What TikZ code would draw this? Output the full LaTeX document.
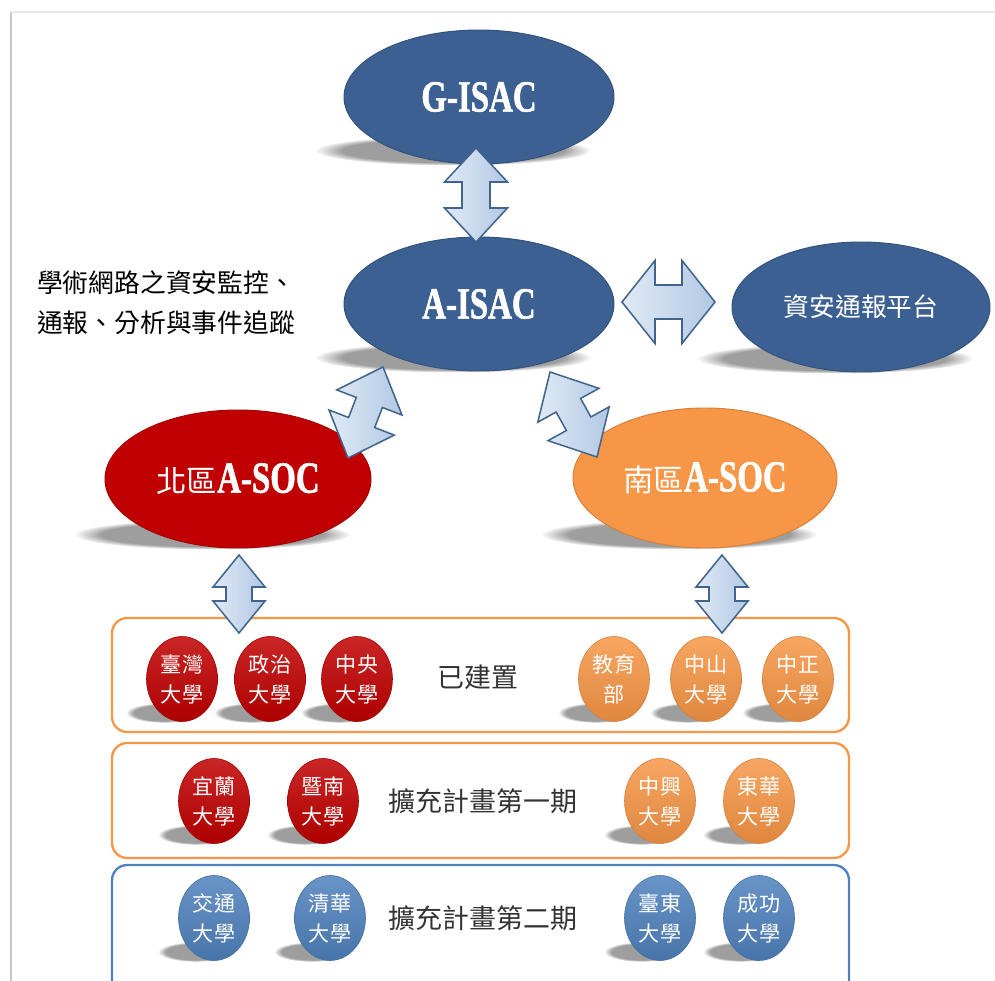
\documentclass[tikz,border=0pt]{standalone}
\usepackage{fontspec}
\newfontfamily\cjk{Noto Sans CJK TC}
\newfontfamily\titlefont[FakeStretch=0.74,FakeBold=1.2]{Liberation Serif Bold}
\usepackage{tikz}
\usetikzlibrary{shapes.geometric,positioning,calc,backgrounds,fadings}

\definecolor{isacblue}{RGB}{59,96,145}
\definecolor{socred}{RGB}{192,0,0}
\definecolor{socorange}{RGB}{247,150,70}
\definecolor{uniblue}{RGB}{79,129,189}
\definecolor{arrowline}{RGB}{65,100,140}
\definecolor{arrowlight}{RGB}{224,234,246}
\definecolor{arrowdark}{RGB}{178,200,228}

\newcommand\px{0.03cm}
% block arrow with two heads: tips #1 and #2, head length, half head width, half shaft width
\newcommand\blockarrow[5]{%
  \draw[bigarrow] (#1)
    -- ($($(#1)!#3*\px!(#2)$)!#4*\px!90:(#2)$)
    -- ($($(#1)!#3*\px!(#2)$)!#5*\px!90:(#2)$)
    -- ($($(#2)!#3*\px!(#1)$)!#5*\px!-90:(#1)$)
    -- ($($(#2)!#3*\px!(#1)$)!#4*\px!-90:(#1)$)
    -- (#2)
    -- ($($(#2)!#3*\px!(#1)$)!#4*\px!90:(#1)$)
    -- ($($(#2)!#3*\px!(#1)$)!#5*\px!90:(#1)$)
    -- ($($(#1)!#3*\px!(#2)$)!#5*\px!-90:(#2)$)
    -- ($($(#1)!#3*\px!(#2)$)!#4*\px!-90:(#2)$)
    -- cycle;}

\begin{document}
\begin{tikzpicture}[x=\px, y=-\px,
    bigoval/.style={ellipse, inner sep=0pt, minimum width=270*\px, minimum height=134*\px,
      draw=#1!85!black, fill=#1, line width=0.8pt, text=white,
      font=\titlefont\fontsize{38}{40}\selectfont},
    uni/.style={ellipse, inner sep=0pt, minimum width=71*\px, minimum height=85*\px,
      draw=#1!85!black, line width=0.5pt, top color=#1!85!white, bottom color=#1!90!black,
      text=white, align=center, font=\cjk\fontsize{18}{25.6}\selectfont},
    rowbox/.style={rounded corners=13pt, line width=2pt},
    rowlabel/.style={text=black!80, font=\cjk\fontsize{23}{26}\selectfont},
    softshadow/.style={fill=black!38, path fading=circle with fuzzy edge 20 percent},
    bigarrow/.style={draw=arrowline, line width=1.3pt, line join=miter,
      left color=arrowlight, right color=arrowdark}]

  \useasboundingbox (0,0) rectangle (995,981);
  \draw[gray!45, line width=1.5pt] (11,981) -- (11,12);
  \draw[gray!18, line width=1.5pt] (11,12) -- (995,12);

  % top part
  \node[bigoval=isacblue] (gisac) at (479,97) {G-ISAC};
  \node[bigoval=isacblue] (aisac) at (479,304) {A-ISAC};
  \node[bigoval=isacblue, minimum width=258*\px, minimum height=130*\px,
        font=\cjk\fontsize{22}{26}\selectfont] (report) at (861,307) {資安通報平台};
  \node[anchor=west, align=left, font=\cjk\fontsize{22}{34}\selectfont] (desc) at (33,303)
        {學術網路之資安監控、\\通報、分析與事件追蹤};

  \node[bigoval=socred, minimum width=266*\px, minimum height=138*\px] (north) at (238,479)
        {{\cjk\fontsize{26}{30}\selectfont 北區}A-SOC};
  \node[bigoval=socorange, minimum width=264*\px, minimum height=140*\px] (south) at (705,478)
        {{\cjk\fontsize{26}{30}\selectfont 南區}A-SOC};

  % rows
  \draw[rowbox, draw=socorange] (112,618) rectangle (849,732);
  \draw[rowbox, draw=socorange] (112,743) rectangle (849,858);
  \draw[rowbox, draw=uniblue] (112,981) |- (849,865) -- (849,981);

  \node[rowlabel] (built) at (478,677) {已建置};
  \node[rowlabel] (phaseone) at (483,801) {擴充計畫第一期};
  \node[rowlabel] (phasetwo) at (483,918) {擴充計畫第二期};

  \node[uni=socred] (ntu) at (182,679) {臺灣\\大學};
  \node[uni=socred] (nccu) at (270,679) {政治\\大學};
  \node[uni=socred] (ncu) at (357,679) {中央\\大學};
  \node[uni=socorange] (moe) at (614,679) {教育\\部};
  \node[uni=socorange] (nsysu) at (706,679) {中山\\大學};
  \node[uni=socorange] (ccu) at (798,679) {中正\\大學};

  \node[uni=socred] (niu) at (214,801) {宜蘭\\大學};
  \node[uni=socred] (ncnu) at (323,801) {暨南\\大學};
  \node[uni=socorange] (nchu) at (660,801) {中興\\大學};
  \node[uni=socorange] (ndhu) at (759,801) {東華\\大學};

  \node[uni=uniblue] (nctu) at (214,918) {交通\\大學};
  \node[uni=uniblue] (nthu) at (330,918) {清華\\大學};
  \node[uni=uniblue] (nttu) at (660,918) {臺東\\大學};
  \node[uni=uniblue] (ncku) at (759,918) {成功\\大學};

  % shadows
  \begin{scope}[on background layer]
    \foreach \n in {gisac, aisac, report, north, south}
      \fill[softshadow] ([shift={(-26,-14)}]\n.south) ellipse (138 and 15);
    \foreach \n in {ntu, nccu, ncu, moe, nsysu, ccu, niu, ncnu, nchu, ndhu, nctu, nthu, nttu, ncku}
      \fill[softshadow] ([shift={(-18,-9)}]\n.south) ellipse (38 and 10);
  \end{scope}

  % arrows
  \coordinate (ga1) at (476,148);  \coordinate (ga2) at (476,242);
  \coordinate (ar1) at (622,302);  \coordinate (ar2) at (715,302);
  \coordinate (an1) at (383,367);  \coordinate (an2) at (348,458);
  \coordinate (as1) at (550,372);  \coordinate (as2) at (597,457);
  \coordinate (nr1) at (239,555);  \coordinate (nr2) at (239,633);
  \coordinate (sr1) at (722,555);  \coordinate (sr2) at (722,633);

  \blockarrow{ga1}{ga2}{34}{31.5}{14}
  \blockarrow{ar1}{ar2}{33}{41.5}{17}
  \blockarrow{an1}{an2}{38}{35}{14}
  \blockarrow{as1}{as2}{38}{35}{14}
  \blockarrow{nr1}{nr2}{32}{26}{13}
  \blockarrow{sr1}{sr2}{32}{26}{13}

\end{tikzpicture}
\end{document}
